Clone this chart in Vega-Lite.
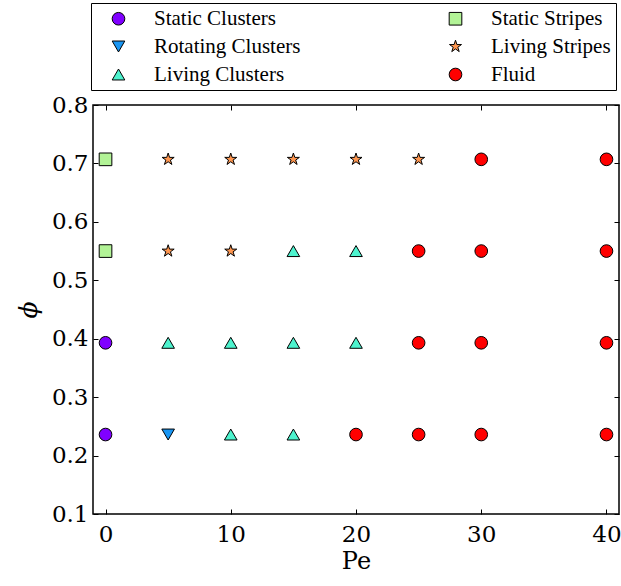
{
  "$schema": "https://vega.github.io/schema/vega-lite/v6.json",
  "width": 526,
  "height": 409,
  "autosize": "none",
  "padding": {"left": 93, "top": 105, "right": 2, "bottom": 72},
  "background": "white",
  "config": {
    "view": {"stroke": "black", "strokeWidth": 1.5},
    "font": "Liberation Serif",
    "axis": {"labelColor": "black", "titleColor": "black", "tickColor": "black", "grid": false, "domain": false}
  },
  "data": {"values": [
    {"Pe": 0, "phi": 0.707, "phase": "Static Stripes"},
    {"Pe": 0, "phi": 0.55, "phase": "Static Stripes"},
    {"Pe": 0, "phi": 0.393, "phase": "Static Clusters"},
    {"Pe": 0, "phi": 0.236, "phase": "Static Clusters"},
    {"Pe": 5, "phi": 0.707, "phase": "Living Stripes"},
    {"Pe": 5, "phi": 0.55, "phase": "Living Stripes"},
    {"Pe": 5, "phi": 0.393, "phase": "Living Clusters"},
    {"Pe": 5, "phi": 0.236, "phase": "Rotating Clusters"},
    {"Pe": 10, "phi": 0.707, "phase": "Living Stripes"},
    {"Pe": 10, "phi": 0.55, "phase": "Living Stripes"},
    {"Pe": 10, "phi": 0.393, "phase": "Living Clusters"},
    {"Pe": 10, "phi": 0.236, "phase": "Living Clusters"},
    {"Pe": 15, "phi": 0.707, "phase": "Living Stripes"},
    {"Pe": 15, "phi": 0.55, "phase": "Living Clusters"},
    {"Pe": 15, "phi": 0.393, "phase": "Living Clusters"},
    {"Pe": 15, "phi": 0.236, "phase": "Living Clusters"},
    {"Pe": 20, "phi": 0.707, "phase": "Living Stripes"},
    {"Pe": 20, "phi": 0.55, "phase": "Living Clusters"},
    {"Pe": 20, "phi": 0.393, "phase": "Living Clusters"},
    {"Pe": 20, "phi": 0.236, "phase": "Fluid"},
    {"Pe": 25, "phi": 0.707, "phase": "Living Stripes"},
    {"Pe": 25, "phi": 0.55, "phase": "Fluid"},
    {"Pe": 25, "phi": 0.393, "phase": "Fluid"},
    {"Pe": 25, "phi": 0.236, "phase": "Fluid"},
    {"Pe": 30, "phi": 0.707, "phase": "Fluid"},
    {"Pe": 30, "phi": 0.55, "phase": "Fluid"},
    {"Pe": 30, "phi": 0.393, "phase": "Fluid"},
    {"Pe": 30, "phi": 0.236, "phase": "Fluid"},
    {"Pe": 40, "phi": 0.707, "phase": "Fluid"},
    {"Pe": 40, "phi": 0.55, "phase": "Fluid"},
    {"Pe": 40, "phi": 0.393, "phase": "Fluid"},
    {"Pe": 40, "phi": 0.236, "phase": "Fluid"}
  ]},
  "layer": [
    {
      "mark": {"type": "point", "filled": true, "opacity": 1, "stroke": "black", "strokeWidth": 1, "size": 160},
      "encoding": {
        "x": {"field": "Pe", "type": "quantitative", "scale": {"domain": [-1, 41], "nice": false, "zero": false},
          "axis": {"orient": "bottom", "values": [0, 10, 20, 30, 40], "tickSize": -5, "labelPadding": 14, "labelFont": "DejaVu Serif", "labelFontSize": 23, "title": "Pe", "titleFont": "DejaVu Serif", "titleFontSize": 24, "titleFontWeight": "normal", "titlePadding": 3, "labelFlush": false}},
        "y": {"field": "phi", "type": "quantitative", "scale": {"domain": [0.1, 0.8], "nice": false, "zero": false},
          "axis": {"orient": "left", "values": [0.1, 0.2, 0.3, 0.4, 0.5, 0.6, 0.7, 0.8], "format": ".1f", "tickSize": -5, "labelPadding": 10, "labelFont": "DejaVu Serif", "labelFontSize": 23, "title": "ϕ", "titleFont": "DejaVu Serif", "titleFontSize": 25, "titleFontWeight": "normal", "titleFontStyle": "italic", "titlePadding": 10, "labelFlush": false}},
        "color": {"field": "phase", "type": "nominal", "title": null,
          "scale": {"domain": ["Static Clusters", "Rotating Clusters", "Living Clusters", "Static Stripes", "Living Stripes", "Fluid"],
                    "range": ["#8000ff", "#1996f3", "#4df3ce", "#b2f396", "#ff964f", "#ff0000"]},
          "legend": {"orient": "none", "legendX": -2, "legendY": -102, "columns": 2, "columnPadding": 132, "rowPadding": 6, "padding": 5,
                     "strokeColor": "black", "fillColor": "white", "labelFont": "Liberation Serif", "labelFontSize": 21, "labelColor": "black",
                     "symbolSize": 160, "symbolOffset": 12, "labelOffset": 25, "symbolStrokeColor": "black", "symbolStrokeWidth": 1}},
        "shape": {"field": "phase", "type": "nominal", "title": null,
          "scale": {"domain": ["Static Clusters", "Rotating Clusters", "Living Clusters", "Static Stripes", "Living Stripes", "Fluid"],
                    "range": ["circle", "triangle-down", "triangle-up", "square", "M0,-1L0.2245,-0.309L0.9511,-0.309L0.3633,0.118L0.5878,0.809L0,0.382L-0.5878,0.809L-0.3633,0.118L-0.9511,-0.309L-0.2245,-0.309Z", "circle"]}}
      }
    },
    {
      "mark": {"type": "point", "filled": true, "opacity": 0, "size": 1},
      "encoding": {
        "x": {"field": "Pe", "type": "quantitative", "scale": {"domain": [-1, 41], "nice": false, "zero": false},
          "axis": {"orient": "top", "values": [0, 10, 20, 30, 40], "tickSize": -5, "labels": false, "title": null}},
        "y": {"field": "phi", "type": "quantitative", "scale": {"domain": [0.1, 0.8], "nice": false, "zero": false},
          "axis": {"orient": "right", "values": [0.1, 0.2, 0.3, 0.4, 0.5, 0.6, 0.7, 0.8], "tickSize": -5, "labels": false, "title": null}}
      }
    }
  ],
  "resolve": {"axis": {"x": "independent", "y": "independent"}}
}
